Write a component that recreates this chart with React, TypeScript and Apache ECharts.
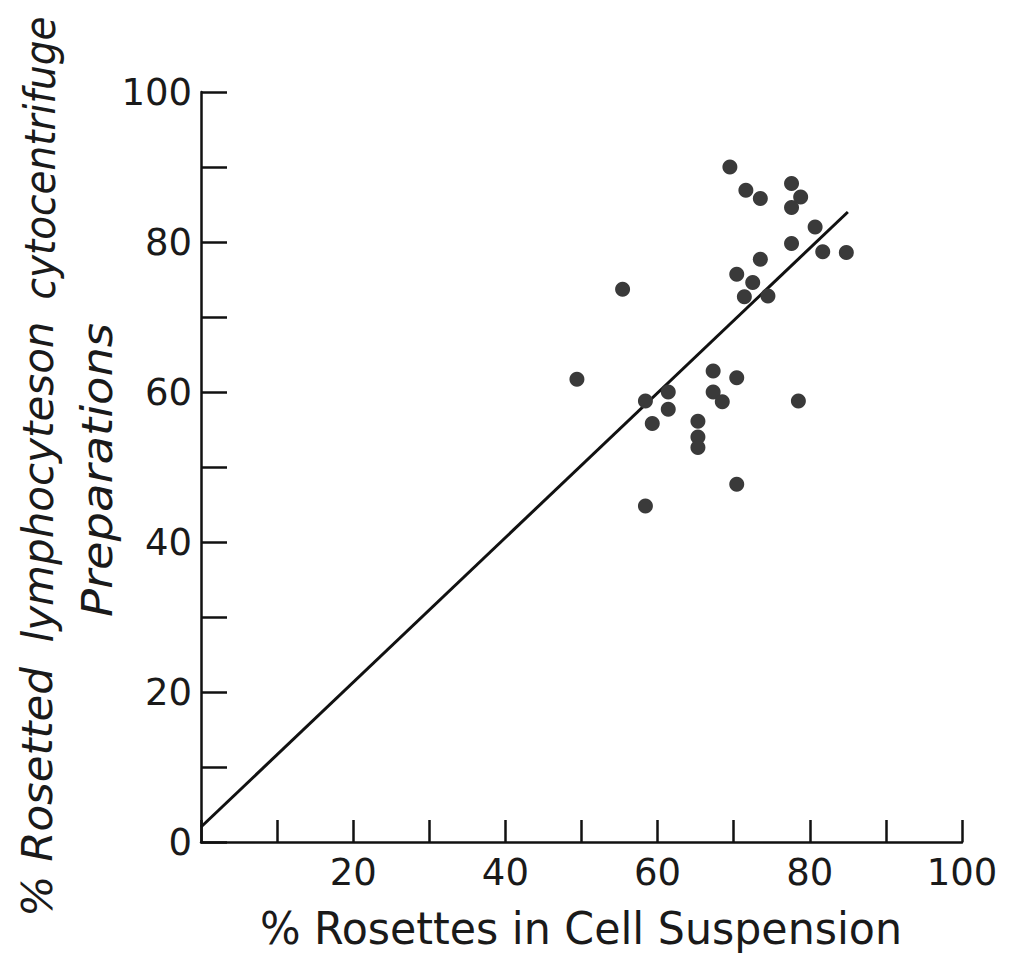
import React, { useEffect, useRef } from "react";
import * as echarts from "echarts";

// % rosettes in cell suspension (x) vs % rosetted lymphocytes on cytocentrifuge preparations (y)
const suspensionPct = [
  49.4, 58.4, 61.4, 61.4, 59.3, 65.3, 65.3, 65.3, 67.3, 70.4, 67.3, 68.5, 78.5, 70.4, 58.4,
  69.5, 71.6, 73.5, 77.6, 78.8, 77.6, 80.7, 77.6, 81.7, 84.8, 73.5, 70.4, 72.5, 71.4, 74.5, 55.4,
];
const cytoPct = [
  61.7, 58.8, 60.0, 57.7, 55.8, 56.1, 54.0, 52.6, 62.8, 61.9, 60.0, 58.7, 58.8, 47.7, 44.8,
  90.0, 86.9, 85.8, 87.8, 86.0, 84.6, 82.0, 79.8, 78.7, 78.6, 77.7, 75.7, 74.6, 72.7, 72.8, 73.7,
];
// regression line end points
const fitX = [0, 85];
const fitY = [2, 84];

const xTickLabels = ["20", "40", "60", "80", "100"];
const yTickLabels = ["0", "20", "40", "60", "80", "100"];

const yTitlePieces = ["% Rosetted", "lymphocyteson", "cytocentrifuge"];
const yTitleLine2 = "Preparations";
const xTitle = "% Rosettes in Cell Suspension";

const TITLE_FAMILY = '"DejaVu Sans Condensed", "Liberation Sans Narrow", "DejaVu Sans", sans-serif';
const LABEL_FAMILY = '"DejaVu Sans", sans-serif';

function measure(text: string, font: string): number {
  const c = document.createElement("canvas");
  const ctx = c.getContext("2d");
  if (!ctx) return text.length * 20;
  ctx.font = font;
  return ctx.measureText(text).width;
}

export default function App() {
  const ref = useRef<HTMLDivElement>(null);

  useEffect(() => {
    if (!ref.current) return;
    const chart = echarts.init(ref.current, null, { renderer: "svg" });

    const titleSize = 42;
    const italicFont = `italic ${titleSize}px ${TITLE_FAMILY}`;
    const xTitleSize = 45;
    const xTitleFont = `normal ${xTitleSize}px ${TITLE_FAMILY}`;

    // [text, centerX, centerY, targetLength]
    const rotatedSpecs: [string, number, number, number][] = [
      [yTitlePieces[0], 38, 792, 250],
      [yTitlePieces[1], 38, 482, 321],
      [yTitlePieces[2], 40, 158, 283],
      [yTitleLine2, 97, 470, 294],
    ];

    const graphics: any[] = rotatedSpecs.map(([text, cx, cy, len]) => {
      const w = measure(text, italicFont);
      return {
        type: "text",
        x: cx,
        y: cy,
        rotation: Math.PI / 2,
        scaleX: len / w,
        scaleY: 1,
        silent: true,
        style: {
          text,
          fontSize: titleSize,
          fontFamily: TITLE_FAMILY,
          fontStyle: "italic",
          fill: "#1a1a1a",
          textAlign: "center",
          textVerticalAlign: "middle",
          align: "center",
          verticalAlign: "middle",
        },
      };
    });

    const xw = measure(xTitle, xTitleFont);
    graphics.push({
      type: "text",
      x: 581,
      y: 928,
      scaleX: 642 / xw,
      scaleY: 1,
      silent: true,
      style: {
        text: xTitle,
        fontSize: xTitleSize,
        fontFamily: TITLE_FAMILY,
        fill: "#1a1a1a",
        textAlign: "center",
        textVerticalAlign: "middle",
        align: "center",
        verticalAlign: "middle",
      },
    });

    const axisLine = { show: true, onZero: false, lineStyle: { color: "#111", width: 2.5 } };

    chart.setOption({
      animation: false,
      backgroundColor: "#ffffff",
      grid: { left: 201, right: 47, top: 92, bottom: 120, containLabel: false },
      xAxis: {
        type: "value",
        min: 0,
        max: 100,
        interval: 10,
        axisLine,
        axisTick: { show: true, inside: true, length: 22, lineStyle: { color: "#111", width: 2.5 } },
        splitLine: { show: false },
        axisLabel: {
          margin: 12,
          fontSize: 37,
          fontFamily: LABEL_FAMILY,
          color: "#1a1a1a",
          formatter: (v: number) => (xTickLabels.includes(String(v)) ? String(v) : ""),
        },
      },
      yAxis: {
        type: "value",
        min: 0,
        max: 100,
        interval: 10,
        axisLine,
        axisTick: { show: true, inside: true, length: 26, lineStyle: { color: "#111", width: 2.5 } },
        splitLine: { show: false },
        axisLabel: {
          margin: 9,
          fontSize: 37,
          fontFamily: LABEL_FAMILY,
          color: "#1a1a1a",
          formatter: (v: number) => (yTickLabels.includes(String(v)) ? String(v) : ""),
        },
      },
      graphic: graphics,
      series: [
        {
          type: "line",
          data: fitX.map((x, i) => [x, fitY[i]]),
          showSymbol: false,
          symbol: "none",
          lineStyle: { color: "#111", width: 3 },
          silent: true,
          z: 2,
        },
        {
          type: "scatter",
          data: suspensionPct.map((x, i) => [x, cytoPct[i]]),
          symbol: "circle",
          symbolSize: 15,
          itemStyle: { color: "#3a3a3a", opacity: 1 },
          z: 3,
        },
      ],
    });

    return () => chart.dispose();
  }, []);

  return (
    <div
      ref={ref}
      style={{ position: "fixed", left: 0, top: 0, width: 1009, height: 962, background: "#fff" }}
    />
  );
}
